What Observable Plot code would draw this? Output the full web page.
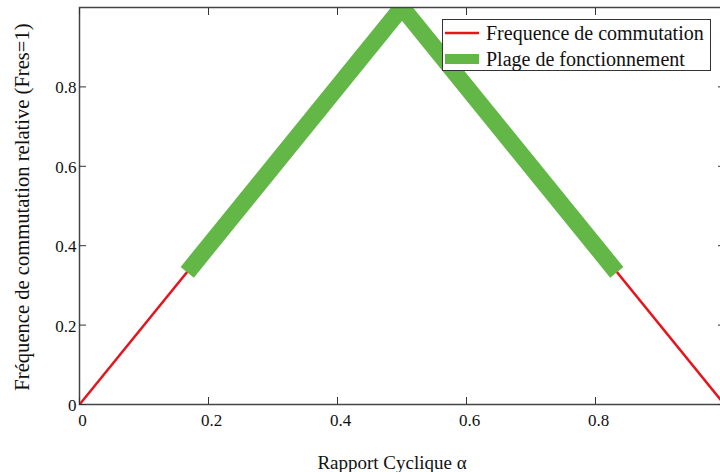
<!DOCTYPE html>
<html>
<head>
<meta charset="utf-8">
<script src="https://cdn.jsdelivr.net/npm/d3@7"></script>
<script src="https://cdn.jsdelivr.net/npm/@observablehq/plot@0.6"></script>
<style>
  html, body { margin: 0; padding: 0; background: #fff; }
  #wrap { position: relative; width: 720px; height: 472px; font-family: "Liberation Serif", "Times New Roman", serif; }
  #wrap svg text { font-family: "Liberation Serif", "Times New Roman", serif; }
  #legend { position: absolute; left: 442px; top: 19px; width: 269px; height: 52px; border: 1.5px solid #333; background: #fff; box-sizing: border-box; }
  #legend .row { position: absolute; left: 0; height: 26px; display: flex; align-items: center; font-size: 20px; color: #111; white-space: nowrap; }
  #legend svg { margin-left: 2px; margin-right: 7px; }
</style>
</head>
<body>
<div id="wrap"></div>
<script>
// Data
const alpha = [0, 0.5, 1];
const freq = [0, 1, 0];
const alphaRange = [0.167, 0.5, 0.833];
const freqRange = [0.333, 1, 0.333];
const xTicks = [0, 0.2, 0.4, 0.6, 0.8];
const xTickLabels = ["0", "0.2", "0.4", "0.6", "0.8"];
const yTicks = [0, 0.2, 0.4, 0.6, 0.8];
const yTickLabels = ["0", "0.2", "0.4", "0.6", "0.8"];
const seriesNames = ["Frequence de commutation", "Plage de fonctionnement"];
const seriesColors = ["#e8141c", "#62b746"];
const xLabel = "Rapport Cyclique \u03b1";
const yLabel = "Fréquence de commutation relative (Fres=1)";

const redData = alpha.map((a, i) => ({a, f: freq[i]}));
const greenData = alphaRange.map((a, i) => ({a, f: freqRange[i]}));
const xTickData = xTicks.map((v, i) => ({v, label: xTickLabels[i]}));
const yTickData = yTicks.map((v, i) => ({v, label: yTickLabels[i]}));
const serif = "Liberation Serif, Times New Roman, serif";

const chart = Plot.plot({
  width: 720,
  height: 472,
  marginLeft: 79,
  marginRight: -4,
  marginTop: 7,
  marginBottom: 68,
  style: {fontFamily: serif, color: "#111", background: "#fff"},
  x: {domain: [0, 1]},
  y: {domain: [0, 1]},
  marks: [
    Plot.line(redData, {x: "a", y: "f", stroke: seriesColors[0], strokeWidth: 2.5, clip: true}),
    Plot.line(greenData, {x: "a", y: "f", stroke: seriesColors[1], strokeWidth: 17, strokeLinecap: "butt", strokeLinejoin: "miter", clip: true}),
    Plot.frame({stroke: "#444", strokeWidth: 1.5}),
    Plot.axisX({anchor: "bottom", ticks: xTicks, tickSize: -7, stroke: "#333", fill: "none", label: null}),
    Plot.axisX({anchor: "top", ticks: xTicks, tickSize: -7, stroke: "#333", fill: "none", label: null}),
    Plot.axisY({anchor: "left", ticks: yTicks, tickSize: -7, stroke: "#333", fill: "none", label: null}),
    Plot.axisY({anchor: "right", ticks: yTicks, tickSize: -7, stroke: "#333", fill: "none", label: null}),
    Plot.text(xTickData, {x: "v", text: "label", frameAnchor: "bottom", lineAnchor: "top", textAnchor: "middle", dy: 9, dx: 3, fontSize: 17, fontFamily: serif, fill: "#111"}),
    Plot.text(yTickData, {y: "v", text: "label", frameAnchor: "left", lineAnchor: "middle", textAnchor: "end", dx: -3, dy: 1, fontSize: 17, fontFamily: serif, fill: "#111"}),
    Plot.text([xLabel], {text: (d) => d, frameAnchor: "bottom", dy: 58, dx: -10, lineAnchor: "middle", textAnchor: "middle", fontSize: 19, fontFamily: serif, fill: "#111"}),
    Plot.text([yLabel], {text: (d) => d, frameAnchor: "left", dx: -57, dy: 1, rotate: -90, lineAnchor: "middle", textAnchor: "middle", fontSize: 20.6, fontFamily: serif, fill: "#111"})
  ]
});
const wrap = document.getElementById("wrap");
wrap.appendChild(chart);

// Legend
const legend = document.createElement("div");
legend.id = "legend";
seriesNames.forEach((name, i) => {
  const row = document.createElement("div");
  row.className = "row";
  row.style.top = (i * 26) + "px";
  const sw = i === 0 ? 2.5 : 10;
  row.innerHTML = `<svg width="34" height="14"><line x1="0" x2="34" y1="7" y2="7" stroke="${seriesColors[i]}" stroke-width="${sw}"/></svg><span>${name}</span>`;
  legend.appendChild(row);
});
wrap.appendChild(legend);
</script>
</body>
</html>
